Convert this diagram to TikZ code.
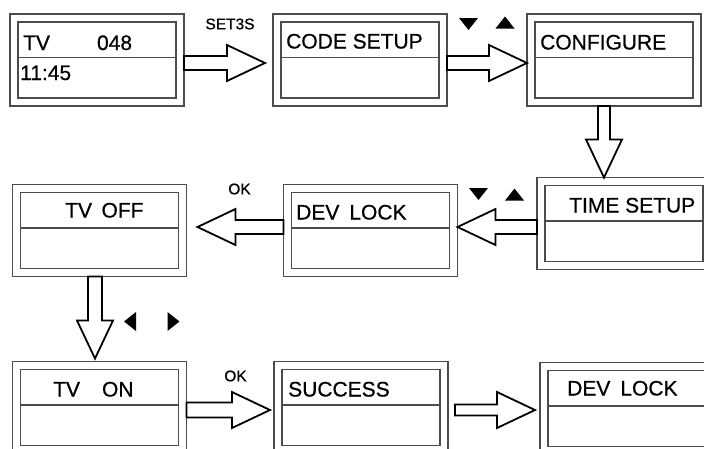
\documentclass[tikz,border=0pt]{standalone}
\usepackage{fontspec}
\setmainfont{Liberation Sans}
\newfontfamily\scrfont{Liberation Sans}[FakeBold=0.7]
\usetikzlibrary{calc}

\tikzset{
  screen/.style={draw=black!70, line width=1.2pt, double=white, double distance=6.8pt,
    minimum width=166pt, minimum height=84pt, inner sep=0pt, outer sep=4pt,
    path picture={\draw[black!70, line width=1.2pt]
      ([yshift=2.5pt]path picture bounding box.west) -- ([yshift=2.5pt]path picture bounding box.east);}},
  txt/.style={font=\scrfont\fontsize{21}{21}\selectfont, anchor=base west, inner sep=0pt},
  key/.style={font=\scrfont\fontsize{15.5}{15.5}\selectfont, inner sep=0pt},
  fatline/.style={draw=black, line width=1.8pt, line join=miter, fill=white},
  tri/.pic={\fill (-9.5,-6) -- (9.5,-6) -- (0,6) -- cycle;}
}

% hollow block arrow: [shaft half width]{tail}{tip}
\newcommand\fatarrow[3][7]{%
  \coordinate (fs) at (#2);
  \coordinate (ft) at (#3);
  \coordinate (fh) at ($(ft)!38pt!(fs)$);
  \draw[fatline] ($(fs)!#1pt!90:(ft)$) -- ($(fh)!#1pt!90:(ft)$) -- ($(fh)!18pt!90:(ft)$) -- (ft)
    -- ($(fh)!18pt!-90:(ft)$) -- ($(fh)!#1pt!-90:(ft)$) -- ($(fs)!#1pt!-90:(ft)$) -- cycle;
}

\begin{document}
\begin{tikzpicture}[x=1pt,y=-1pt]
  \useasboundingbox (0,0) rectangle (704,448);
  \clip (0,0) rectangle (704,448);

% screens, row by row
  \node[screen] (tv)       at (97,60)      {};
  \node[screen] (code)     at (360,60)     {};
  \node[screen] (config)   at (614,60)     {};
  \node[screen] (tvoff)    at (99.5,230.5) {};
  \node[screen] (devlock)  at (370.5,230.5) {};
  \node[screen] (timeset)  at (624,223.5)  {};
  \node[screen] (tvon)     at (99.5,407.5) {};
  \node[screen] (success)  at (361,407.5)  {};
  \node[screen] (devlockb) at (627,408.5)  {};

% screen texts
  \node[txt] (tvtxt)      at (23,50)      {TV\hspace{47pt}048};
  \node[txt] (clocktxt)   at (20,80)      {11:45};
  \node[txt] (codetxt)    at (286,48.5)   {CODE SETUP};
  \node[txt] (configtxt)  at (540,49.5)   {CONFIGURE};
  \node[txt] (tvofftxt)   at (65,217.5)   {TV\hspace{9.5pt}OFF};
  \node[txt] (devtxt)     at (296,219.5)  {DEV\hspace{10pt}LOCK};
  \node[txt] (timetxt)    at (569,212.5)  {TIME SETUP};
  \node[txt] (tvontxt)    at (53,396.5)   {TV\hspace{22pt}ON};
  \node[txt] (successtxt) at (288,396.5)  {SUCCESS};
  \node[txt] (devtxtb)    at (567,395.5)  {DEV\hspace{10pt}LOCK};

% key labels
  \node[key] (set) at (230,24)    {SET3S};
  \node[key] (oka) at (239.5,189) {OK};
  \node[key] (okb) at (235.5,376) {OK};

% arrows between screens
  \fatarrow{[yshift=-3pt]tv.east}{[xshift=-8pt,yshift=-3pt]code.west}
  \fatarrow{[yshift=-3pt]code.east}{[yshift=-3pt]config.west}
  \fatarrow[6]{$(config.south)+(-10,0)$}{$(timeset.north)+(-20,0)$}
  \fatarrow{$(timeset.west)+(0,3.5)$}{$(devlock.east)+(0,-3.5)$}
  \fatarrow{$(devlock.west)+(0,-3.5)$}{$(tvoff.east)+(11,-3.5)$}
  \fatarrow{$(tvoff.south)+(-4.5,0)$}{$(tvon.north)+(-4.5,-3)$}
  \fatarrow[7.5]{$(tvon.east)+(0,2.5)$}{$(success.west)+(-4,2.5)$}
  \fatarrow[5.5]{$(success.east)+(7,2.5)$}{$(devlockb.west)+(-5,1.5)$}

% key marks
  \pic at (468.5,24) {tri};
  \pic[rotate=180] at (505,22.5) {tri};
  \pic at (478.5,194) {tri};
  \pic[rotate=180] at (514.5,194.5) {tri};
  \pic[rotate=-90] at (130,321.5) {tri};
  \pic[rotate=90] at (173.5,321.5) {tri};

\end{tikzpicture}
\end{document}
